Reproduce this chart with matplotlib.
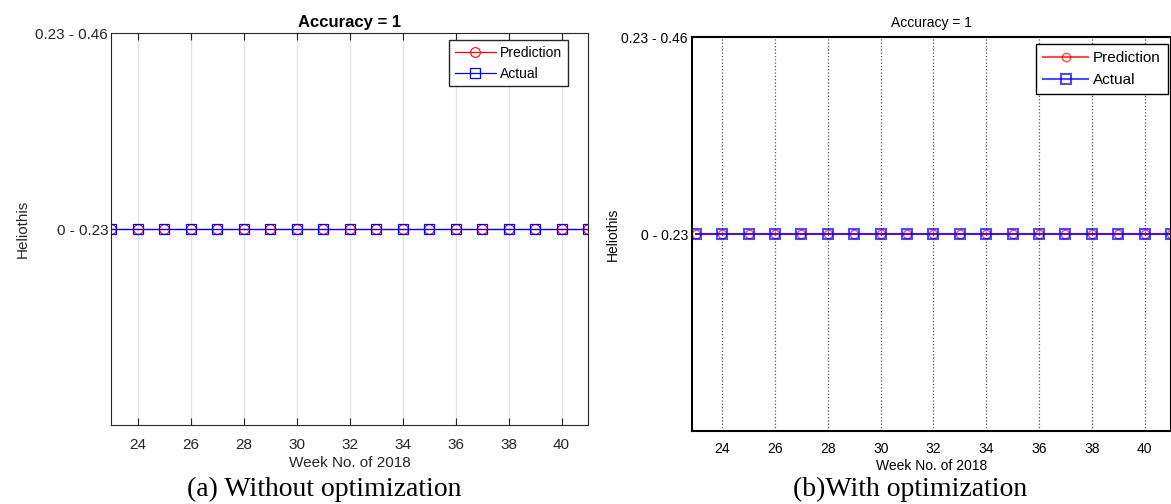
import numpy as np
import matplotlib.pyplot as plt

# semanas y clases (1 = "0 - 0.23")
weeks = list(range(23, 42))
prediction = [1] * len(weeks)
actual = [1] * len(weeks)
class_ticks = [1, 2]
class_labels = ['0 - 0.23', '0.23 - 0.46']
week_ticks = list(range(24, 42, 2))

plt.rcParams['font.family'] = ['Liberation Sans', 'DejaVu Sans']

fig = plt.figure(figsize=(11.71, 5.04), dpi=100)

# (a) sin optimización
ax1 = fig.add_axes([0.0948, 0.1567, 0.4074, 0.7778])
ax1.plot(weeks, prediction, color='red', lw=0.9, marker='o', ms=7,
         mfc='none', mec='red', mew=0.8, label='Prediction')
ax1.plot(weeks, actual, color='blue', lw=0.9, marker='s', ms=6.5,
         mfc='none', mec='blue', mew=0.9, label='Actual')
ax1.set_xlim(23, 41)
ax1.set_ylim(0, 2)
ax1.set_xticks(week_ticks)
ax1.set_yticks(class_ticks)
ax1.set_yticklabels(class_labels)
ax1.grid(axis='x', color='#e3e3e3', lw=1)
ax1.set_axisbelow(True)
ax1.tick_params(axis='x', direction='in', top=True, length=5, labelsize=11,
                colors='#262626', pad=9)
ax1.tick_params(axis='y', direction='in', length=0, labelsize=11,
                colors='#262626', pad=2)
for s in ax1.spines.values():
    s.set_color('#262626')
    s.set_linewidth(0.8)
ax1.set_title('Accuracy = 1', fontsize=12, fontweight='bold', pad=4)
ax1.set_xlabel('Week No. of 2018', fontsize=11, color='#262626', labelpad=3)
ax1.set_ylabel('Heliothis', fontsize=11, color='#262626', labelpad=4)
ax1.legend(loc='upper right', bbox_to_anchor=(0.958, 0.982), fontsize=10,
           fancybox=False, edgecolor='#262626', framealpha=1, borderpad=0.4,
           labelspacing=0.5, handlelength=3, handletextpad=0.3,
           borderaxespad=0)
fig.text(0.277, 0.028, '(a) Without optimization', family='Liberation Serif',
         fontsize=20, ha='center', va='center')

# (b) con optimización
ax2 = fig.add_axes([0.5909, 0.1448, 0.4091, 0.7817])
ax2.plot(weeks, prediction, color='red', lw=1.5, alpha=0.7, marker='o', ms=6,
         mfc='none', mec='red', mew=1.0, label='Prediction')
ax2.plot(weeks, actual, color='blue', lw=1.5, alpha=0.7, marker='s', ms=7,
         mfc='none', mec='blue', mew=1.5, label='Actual')
ax2.set_xlim(22.85, 41)
ax2.set_ylim(0, 2)
ax2.set_xticks(week_ticks)
ax2.set_yticks(class_ticks)
ax2.set_yticklabels(class_labels)
ax2.grid(axis='x', color='#555555', lw=0.9, ls=':')
ax2.tick_params(axis='x', direction='in', length=0, labelsize=10, pad=8)
ax2.tick_params(axis='y', direction='in', length=0, labelsize=10, pad=3)
for s in ax2.spines.values():
    s.set_linewidth(1.5)
ax2.set_title('Accuracy = 1', fontsize=10, pad=7)
ax2.set_xlabel('Week No. of 2018', fontsize=10, labelpad=2)
ax2.set_ylabel('Heliothis', fontsize=10, labelpad=1)
ax2.legend(loc='upper right', bbox_to_anchor=(0.993, 0.982), fontsize=11,
           fancybox=False, edgecolor='black', framealpha=1, borderpad=0.45,
           labelspacing=0.55, handlelength=3, handletextpad=0.3,
           borderaxespad=0)
fig.text(0.777, 0.028, '(b)With optimization', family='Liberation Serif',
         fontsize=20, ha='center', va='center')

plt.savefig('out.png', dpi=100)
